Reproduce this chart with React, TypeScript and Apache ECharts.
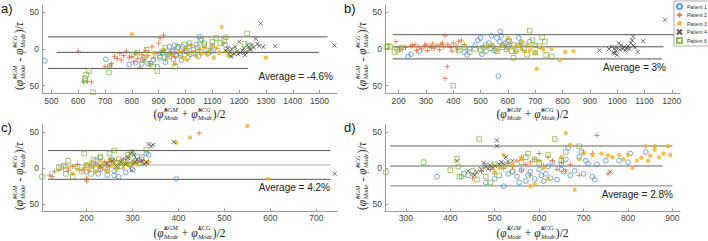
import React, { useEffect, useRef } from 'react';
import * as echarts from 'echarts';

// ---------- data ----------
const names = ['Patient 1', 'Patient 2', 'Patient 3', 'Patient 4', 'Patient 6'];
const colors = ['#3a82d6', '#e0622a', '#edb120', '#333333', '#77ac30'];

const yTicks = [-50, 0, 50];
const xTicksA = [500, 600, 700, 800, 900, 1000, 1100, 1200, 1300, 1400, 1500];
const xTicksB = [200, 300, 400, 500, 600, 700, 800, 900, 1000, 1100, 1200];
const xTicksC = [200, 300, 400, 500, 600, 700];
const xTicksD = [300, 400, 500, 600, 700, 800, 900];

// panel a
const p1A = [[475,-16],[703,-14],[717,-23],[790,-21],[814,-19],[837,-20],[845,-12],[860,-20],[880,-15],[895,-24],[905,-10],[915,-5],[925,-18],[935,-8],[940,3],[950,-2],[955,-14],[960,5],[965,-9],[972,2],[980,-6],[985,-15],[990,3],[1000,-3],[1008,-12],[1015,4],[1020,-7],[1030,-1],[1040,6],[1048,-10],[1051,17],[1059,13],[1060,-4],[1070,8],[1085,-6],[1095,-3],[1100,4],[1120,-2],[1150,5],[1170,-8]];
const p2A = [[600,-3],[620,-45],[635,-44],[650,-45],[700,-24],[718,-23],[725,-20],[735,-10],[745,-13],[755,-6],[760,-15],[770,-9],[780,-3],[790,-12],[800,-10],[808,-17],[815,-6],[822,-13],[830,-25],[838,-8],[845,-15],[852,-2],[860,-9],[868,-20],[875,3],[882,-12],[890,-6],[900,8],[905,15],[910,-3],[918,19],[925,-14],[935,-8],[945,-4],[960,-10],[975,-6],[995,-2]];
const p3A = [[800,20],[855,-10],[880,-5],[920,-1],[950,-8],[960,-20],[975,-3],[990,-12],[1000,2],[1005,-15],[1010,-7],[1020,5],[1030,-4],[1040,-10],[1050,0],[1060,-6],[1070,3],[1080,-8],[1090,-2],[1100,4],[1105,-12],[1115,1],[1125,-5],[1135,30],[1140,8],[1150,-3],[1160,-9],[1180,-6],[1300,-12]];
const p4A = [[1150,-2],[1158,1],[1165,-4],[1170,-10],[1172,0],[1180,-6],[1185,3],[1192,-3],[1195,-7],[1200,10],[1205,-5],[1212,-2],[1218,1],[1222,-8],[1225,-4],[1230,5],[1236,3],[1240,-1],[1242,0],[1248,6],[1255,2],[1262,14],[1268,7],[1275,4],[1280,35],[1290,3],[1335,4],[1555,5]];
const p6A = [[625,-40],[630,-35],[640,-30],[625,-43],[655,-59],[715,-32],[800,-8],[820,-5],[840,-15],[855,-1],[870,-20],[880,-24],[895,-30],[905,-12],[915,-5],[925,2],[940,-10],[955,-4],[962,-24],[970,3],[980,-8],[995,6],[1005,-3],[1015,8],[1030,-6],[1045,2],[1055,12],[1070,5],[1085,-2],[1100,10],[1115,15],[1130,8],[1145,12],[1150,16],[1180,-2],[1220,7],[1230,21],[1240,4]];

// panel b
const p1B = [[235,-10],[245,-7],[275,-3],[440,-4],[450,-8],[460,0],[480,5],[490,12],[500,15],[505,-7],[510,2],[520,-3],[530,8],[540,18],[545,4],[550,-2],[560,15],[565,-37],[570,10],[572,24],[576,18],[580,5],[590,8],[595,-1],[600,3],[605,12],[620,6],[630,-3],[640,15],[650,9],[680,10],[700,5]];
const p2B = [[190,10],[205,0],[225,2],[245,4],[250,5],[260,6],[265,-2],[275,3],[285,0],[295,5],[300,6],[305,-2],[315,4],[320,2],[325,7],[330,1],[340,5],[350,-1],[355,6],[360,8],[365,3],[370,18],[370,-40],[378,-24],[380,6],[390,2],[395,-3],[400,8],[410,4],[415,-1],[420,10],[430,12],[440,6]];
const p3B = [[520,3],[540,6],[560,-2],[580,4],[600,-1],[600,15],[610,8],[620,2],[630,-4],[640,5],[650,0],[650,10],[660,-3],[670,6],[680,-2],[690,3],[700,-5],[705,-27],[720,2],[730,-1],[760,0],[790,-15],[810,-4],[840,-3]];
const p4B = [[935,-2],[970,0],[980,3],[985,-5],[990,1],[990,-6],[995,-3],[1000,2],[1000,-8],[1005,8],[1010,-1],[1015,5],[1020,0],[1025,3],[1030,-2],[1035,1],[1040,4],[1045,0],[1050,8],[1055,12],[1058,17],[1060,5],[1065,2],[1075,-4],[1095,11],[1175,40]];
const p6B = [[155,3],[160,4],[170,3],[185,-4],[195,-1],[205,0],[210,2],[400,-50],[420,-2],[440,3],[460,-4],[480,0],[500,-2],[520,5],[540,1],[560,-3],[580,2],[600,10],[615,-3],[620,-12],[640,5],[660,1],[670,-8],[680,25],[690,12],[700,-5],[715,4],[725,16],[735,10],[740,-8],[760,-10]];

// panel c
const p1C = [[200,-5],[210,3],[220,10],[225,-8],[230,15],[230,-2],[240,0],[245,-10],[250,6],[255,12],[260,-4],[260,-10],[265,8],[270,-12],[275,2],[280,10],[285,-6],[290,14],[295,4],[300,-2],[305,10],[310,16],[315,6],[320,12],[330,20],[335,18],[395,-15]];
const p2C = [[120,-10],[125,-12],[130,-5],[140,-2],[150,0],[160,-3],[170,2],[180,5],[190,-3],[200,-18],[200,-14],[210,3],[220,6],[230,-1],[240,8],[250,2],[260,10],[270,4],[280,12],[290,7],[300,5],[310,8],[320,10],[330,6],[335,8],[445,48]];
const p3C = [[160,0],[170,-8],[180,-2],[195,0],[200,5],[205,-3],[210,8],[215,2],[220,-6],[225,4],[230,10],[235,0],[240,6],[245,-4],[250,12],[255,3],[260,8],[265,-2],[270,5],[275,10],[280,0],[285,7],[290,15],[295,3],[300,9],[310,5],[330,8],[395,35],[425,42],[550,58],[595,-15]];
const p4C = [[230,3],[245,6],[255,10],[265,2],[275,8],[285,5],[290,14],[295,20],[298,-3],[300,22],[303,18],[305,8],[310,12],[320,10],[325,5],[330,8],[335,33],[340,30],[345,32],[390,36],[740,-8]];
const p6C = [[103,-12],[140,0],[150,3],[155,-8],[160,10],[170,-12],[180,2],[190,-5],[195,20],[200,4],[210,-8],[215,12],[220,0],[230,15],[240,6],[245,-3],[250,20],[255,10],[260,24],[265,2],[270,12],[280,8],[290,18],[295,5],[300,22],[310,10],[320,15],[330,25]];

// panel d
const p1D = [[370,-12],[425,-12],[440,-10],[480,-20],[500,-15],[520,-25],[530,-8],[540,-5],[550,-12],[555,-20],[560,-3],[570,-18],[575,-10],[580,-5],[590,-15],[600,-2],[605,-10],[610,-18],[615,-8],[620,2],[625,-14],[630,8],[640,-16],[650,5],[650,-2],[655,-5],[660,12],[665,28],[670,-10],[680,-4],[690,15],[695,22],[700,-8],[705,10],[710,6],[720,-12],[725,-16],[730,5],[750,10],[780,10],[800,8],[805,20],[840,22]];
const p2D = [[450,-14],[470,-5],[490,-2],[500,-8],[510,3],[520,0],[530,6],[540,2],[550,10],[560,-3],[560,15],[570,5],[580,8],[580,-10],[590,12],[600,20],[610,3],[620,15],[630,10],[640,-2],[650,8],[660,-4],[670,5],[690,-10],[700,22],[720,20],[730,45],[755,-8]];
const p3D = [[500,-5],[510,0],[520,18],[540,5],[560,12],[580,-25],[590,-22],[600,10],[610,0],[620,-15],[650,15],[660,48],[670,32],[680,-30],[690,12],[700,20],[720,18],[740,20],[755,17],[765,15],[780,18],[790,12],[800,18],[810,0],[820,10],[830,14],[840,30],[845,10],[850,17],[860,25],[860,30],[870,15],[880,20],[890,30],[895,18]];
const p4D = [[415,10],[440,-4],[450,-8],[455,-10],[460,-6],[470,-2],[475,7],[480,2],[485,-1],[490,4],[495,0],[500,3],[505,38],[505,30],[510,5],[515,8],[520,6],[525,15],[530,9],[540,10],[760,-5]];
const p6D = [[255,-6],[340,8],[400,-3],[415,13],[418,2],[420,-12],[430,-8],[450,-4],[460,-16],[465,40],[470,-2],[480,3],[480,-12],[490,-20],[500,5],[510,-10],[520,2],[540,-5],[560,8],[570,15],[575,20],[590,12],[600,7],[620,18],[635,40],[650,10],[660,22],[690,30]];

// limits of agreement: [upper, mean, lower] and their x extents
const loaA = [16.5, -4.6, -26.5];
const loaXA = [[488, 1530], [519, 1497], [488, 1233]];
const loaB = [19.5, 3, -13.5];
const loaXB = [[178, 1208], [178, 1170], [178, 1164]];
const loaC = [24, 4.2, -15.6];
const loaXC = [[116, 731], [134, 731], [116, 731]];
const loaD = [30.3, 2.8, -24.7];
const loaXD = [[264, 900], [264, 878], [264, 900]];

const averages = ['Average = -4.6%', 'Average = 3%', 'Average = 4.2%', 'Average = 2.8%'];
const panelLabels = ['a)', 'b)', 'c)', 'd)'];
const xRanges = [[465, 1565], [150, 1230], [103, 745], [253, 917]];

// ---------- styles / layout ----------
const SANS = '"Liberation Sans", Arial, sans-serif';
const SERIF = '"Liberation Serif", "DejaVu Serif", serif';
const SYMS = [
  'path://M10,5A5,5,0,1,1,0,5A5,5,0,1,1,10,5Z',
  'path://M5,0L5,10M0,5L10,5',
  'path://M5,0L5,10M0,5L10,5M1.5,1.5L8.5,8.5M8.5,1.5L1.5,8.5',
  'path://M0,0L10,10M10,0L0,10',
  'path://M0,0L10,0L10,10L0,10Z',
];
const SYM_SIZE = [4.8, 5.5, 4.5, 4.2, 4.6];
const SYM_BW = [0.85, 0.9, 1.2, 0.85, 0.85];

const GRIDS = [
  { left: 42, top: 5, height: 88 },
  { left: 385, top: 5, height: 88 },
  { left: 42, top: 124.5, height: 87 },
  { left: 385, top: 124.5, height: 87 },
];
const GW = 295;
const lineColors = [
  ['#555', '#555', '#555'],
  ['#555', '#555', '#555'],
  ['#555', '#aaa', '#555'],
  ['#999', '#999', '#999'],
];
const avgPos = [[333, 76], [666, 67], [330, 187], [673, 194]];
const titlePos = [[1, 2], [344, 2], [1, 121], [344, 121]];
const yLabelPos = [[19, 56], [362, 56], [19, 176], [362, 176]];
const xLabelY = [114, 114, 232.5, 232.5];
const xLabelMargin = [3, 3, 2, 2];

let measureCtx: CanvasRenderingContext2D | null = null;
function measure(t: string, size: number, italic: boolean) {
  if (!measureCtx) measureCtx = document.createElement('canvas').getContext('2d');
  measureCtx!.font = `${italic ? 'italic ' : ''}${size}px ${SERIF}`;
  return measureCtx!.measureText(t).width;
}

type Part = { t: string; it?: boolean } | { sup: string; sub: string };

function formula(parts: Part[], x: number, y: number, rotation: number) {
  const MAIN = 11.5, SMALL = 6.3;
  const widths = parts.map((p: any) =>
    p.sup !== undefined
      ? Math.max(measure(p.sup, SMALL, true), measure(p.sub, SMALL, true)) + 1
      : measure(p.t, MAIN, !!p.it)
  );
  const total = widths.reduce((a, b) => a + b, 0);
  let cx = -total / 2;
  const children: any[] = [];
  const txt = (tx: number, ty: number, text: string, size: number, italic: boolean) => ({
    type: 'text',
    x: tx,
    y: ty,
    style: {
      text,
      fontSize: size,
      fontFamily: SERIF,
      fontStyle: italic ? 'italic' : 'normal',
      fill: '#222',
      align: 'left',
      verticalAlign: 'middle',
    },
  });
  parts.forEach((p: any, i) => {
    if (p.sup !== undefined) {
      children.push(txt(cx + 0.5, -5, p.sup, SMALL, true));
      children.push(txt(cx + 0.5, 3.8, p.sub, SMALL, true));
    } else {
      children.push(txt(cx, 0, p.t, MAIN, !!p.it));
    }
    cx += widths[i];
  });
  return { type: 'group', x, y, rotation, silent: true, children };
}

const PHI = 'φ\u0303';
const yLabelParts: Part[] = [
  { t: '(' }, { t: PHI, it: true }, { sup: 'EGM', sub: 'Mode' }, { t: ' - ' },
  { t: PHI, it: true }, { sup: 'ECG', sub: 'Mode' }, { t: ')/' }, { t: 'τ', it: true },
];
const xLabelParts: Part[] = [
  { t: '(' }, { t: PHI, it: true }, { sup: 'EGM', sub: 'Mode' }, { t: ' + ' },
  { t: PHI, it: true }, { sup: 'ECG', sub: 'Mode' }, { t: ')/2' },
];

export default function App() {
  const ref = useRef<HTMLDivElement>(null);
  useEffect(() => {
    if (!ref.current) return;
    const chart = echarts.init(ref.current, null, { renderer: 'svg' });
    const panelData = [
      [p1A, p2A, p3A, p4A, p6A],
      [p1B, p2B, p3B, p4B, p6B],
      [p1C, p2C, p3C, p4C, p6C],
      [p1D, p2D, p3D, p4D, p6D],
    ];
    const loas = [loaA, loaB, loaC, loaD];
    const loaXs = [loaXA, loaXB, loaXC, loaXD];
    const xTicks = [xTicksA, xTicksB, xTicksC, xTicksD];

    const grid = GRIDS.map((g) => ({ left: g.left, top: g.top, width: GW, height: g.height, containLabel: false }));
    const axisLine = { show: true, onZero: false, lineStyle: { color: '#9a9a9a', width: 1 } };
    const xAxis = xRanges.map((r, i) => ({
      type: 'value', gridIndex: i, min: r[0], max: r[1],
      axisLine,
      axisTick: { show: true, inside: true, length: 3, customValues: xTicks[i], lineStyle: { color: '#9a9a9a' } },
      axisLabel: {
        customValues: xTicks[i], fontSize: 8.5, lineHeight: 9, color: '#444', margin: xLabelMargin[i], fontFamily: SANS,
        formatter: (v: number) => String(v),
      },
      splitLine: { show: false },
    }));
    const yAxis = GRIDS.map((_, i) => ({
      type: 'value', gridIndex: i, min: -60, max: 60,
      axisLine,
      axisTick: { show: true, inside: true, length: 3, customValues: yTicks, lineStyle: { color: '#9a9a9a' } },
      axisLabel: {
        customValues: yTicks, fontSize: 8.5, color: '#444', margin: 3, fontFamily: SANS,
        formatter: (v: number) => String(Math.abs(v)),
      },
      splitLine: { show: false },
    }));

    const series: any[] = [];
    panelData.forEach((sets, pi) => {
      loas[pi].forEach((yv, li) => {
        series.push({
          type: 'line', xAxisIndex: pi, yAxisIndex: pi, silent: true, symbol: 'none',
          data: [[loaXs[pi][li][0], yv], [loaXs[pi][li][1], yv]],
          lineStyle: { color: lineColors[pi][li], width: pi === 3 ? 1.4 : 1 },
          z: 1,
        });
      });
      sets.forEach((d, si) => {
        series.push({
          type: 'scatter', name: names[si], xAxisIndex: pi, yAxisIndex: pi,
          data: d, symbol: SYMS[si], symbolSize: SYM_SIZE[si],
          itemStyle: { color: 'rgba(0,0,0,0)', borderColor: colors[si], borderWidth: SYM_BW[si] },
          z: 2,
        });
      });
    });

    const graphic: any[] = [];
    panelLabels.forEach((t, i) => {
      graphic.push({
        type: 'text', x: titlePos[i][0], y: titlePos[i][1],
        style: { text: t, fontSize: 13, fontFamily: SANS, fill: '#111', align: 'left', verticalAlign: 'top' },
      });
      graphic.push({
        type: 'text', x: avgPos[i][0], y: avgPos[i][1],
        style: { text: averages[i], fontSize: 10, fontFamily: SANS, fill: '#222', align: 'right', verticalAlign: 'middle' },
      });
      graphic.push(formula(yLabelParts, yLabelPos[i][0], yLabelPos[i][1], Math.PI / 2));
      graphic.push(formula(xLabelParts, GRIDS[i].left + GW / 2, xLabelY[i], 0));
    });

    chart.setOption({
      animation: false,
      backgroundColor: '#fff',
      grid,
      xAxis,
      yAxis,
      series,
      graphic,
      legend: {
        data: names,
        orient: 'vertical',
        left: 674,
        top: 1,
        itemWidth: 5,
        itemHeight: 5,
        itemGap: 1.5,
        padding: [2, 2, 2, 2],
        borderColor: '#999',
        borderWidth: 0.8,
        backgroundColor: '#fff',
        textStyle: { fontSize: 5, lineHeight: 5.5, color: '#333', fontFamily: SANS },
      },
    });
    return () => chart.dispose();
  }, []);
  return <div ref={ref} style={{ position: 'fixed', left: 0, top: 0, width: 708, height: 241 }} />;
}
